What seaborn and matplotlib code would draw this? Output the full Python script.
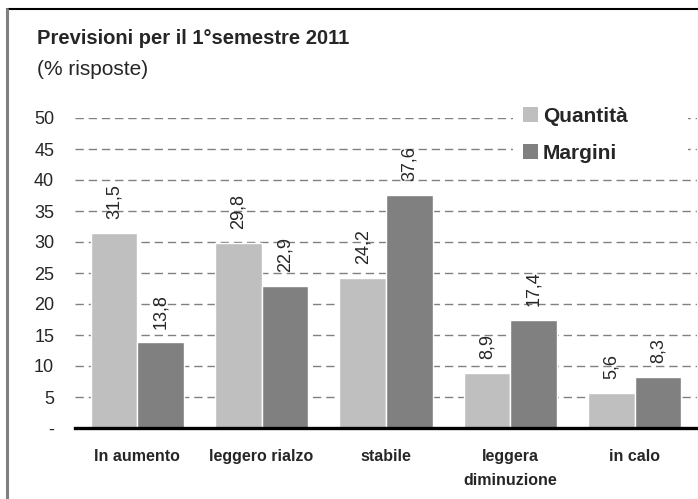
import numpy as np
import pandas as pd
import seaborn as sns
import matplotlib.pyplot as plt
from matplotlib.lines import Line2D
from matplotlib.patches import Patch, Rectangle

categories = ["In aumento", "leggero rialzo", "stabile", "leggera\ndiminuzione", "in calo"]
quantita = [31.5, 29.8, 24.2, 8.9, 5.6]
margini = [13.8, 22.9, 37.6, 17.4, 8.3]
series = ["Quantità", "Margini"]
colors = ["#BFBFBF", "#808080"]
yticks = [0, 5, 10, 15, 20, 25, 30, 35, 40, 45, 50]
ytick_labels = ["-"] + [str(v) for v in yticks[1:]]

df = pd.DataFrame({
    "categoria": categories * 2,
    "serie": [series[0]] * len(categories) + [series[1]] * len(categories),
    "valore": quantita + margini,
})

sns.set_style("white")
plt.rcParams["font.family"] = ["Liberation Sans", "DejaVu Sans"]

W, H = 698, 499
fig = plt.figure(figsize=(W / 100, H / 100), dpi=100)
ax = fig.add_axes([75 / W, 1 - 428 / H, 622 / W, 310 / H])

sns.barplot(data=df, x="categoria", y="valore", hue="serie", palette=colors,
            width=0.75, ax=ax, legend=False, saturation=1)

for cont, vals in zip(ax.containers, [quantita, margini]):
    ax.bar_label(cont, labels=[f"{v:.1f}".replace(".", ",") for v in vals],
                 rotation=90, padding=10, fontsize=13)

ax.set_ylim(0, 50)
ax.set_xlim(-0.5, len(categories) - 0.5)
ax.set_yticks(yticks)
ax.set_yticklabels(ytick_labels, fontsize=13)
ax.yaxis.grid(True, linestyle=(0, (6, 3.5)), color="#808080", linewidth=1)
ax.set_axisbelow(True)
ax.set_xlabel("")
ax.set_ylabel("")
for s in ["top", "right", "left"]:
    ax.spines[s].set_visible(False)
ax.spines["bottom"].set_linewidth(2.4)
ax.spines["bottom"].set_color("black")

ax.set_xticks(range(len(categories)))
ax.set_xticklabels(categories, fontsize=11.5, fontweight="bold", linespacing=1.75)
ax.set_xticks(np.arange(-0.5, len(categories)), minor=True)
ax.tick_params(axis="x", which="major", length=0, pad=15)
ax.tick_params(axis="x", which="minor", length=5, width=2.2, color="black", direction="out")
ax.tick_params(axis="y", length=0, pad=15)

# white box behind the legend, hiding the gridlines there
ax.add_patch(Rectangle((513 / W, 1 - 172 / H), 175 / W, 68 / H, transform=fig.transFigure,
                       facecolor="white", edgecolor="none", zorder=1.5))
handles = [Patch(facecolor=c, edgecolor="none") for c in colors]
ax.legend(handles, series, loc="upper left", bbox_to_anchor=(523 / W, 1 - 107 / H),
          bbox_transform=fig.transFigure, frameon=False, handlelength=0.72,
          handleheight=0.72, handletextpad=0.24, labelspacing=0.87,
          borderpad=0, borderaxespad=0,
          prop={"weight": "bold", "size": 15})

fig.text(37 / W, 1 - 44 / H, "Previsioni per il 1°semestre 2011", fontsize=14.5,
         fontweight="bold", va="baseline")
fig.text(37 / W, 1 - 75 / H, "(% risposte)", fontsize=15, va="baseline")

fig.add_artist(Line2D([7 / W, 1], [1 - 9 / H, 1 - 9 / H], color="black", linewidth=1.5,
                      transform=fig.transFigure))
fig.add_artist(Line2D([7.5 / W, 7.5 / W], [0, 1 - 9 / H], color="#808080", linewidth=2.2,
                      transform=fig.transFigure))

fig.savefig("out.png", dpi=100)
